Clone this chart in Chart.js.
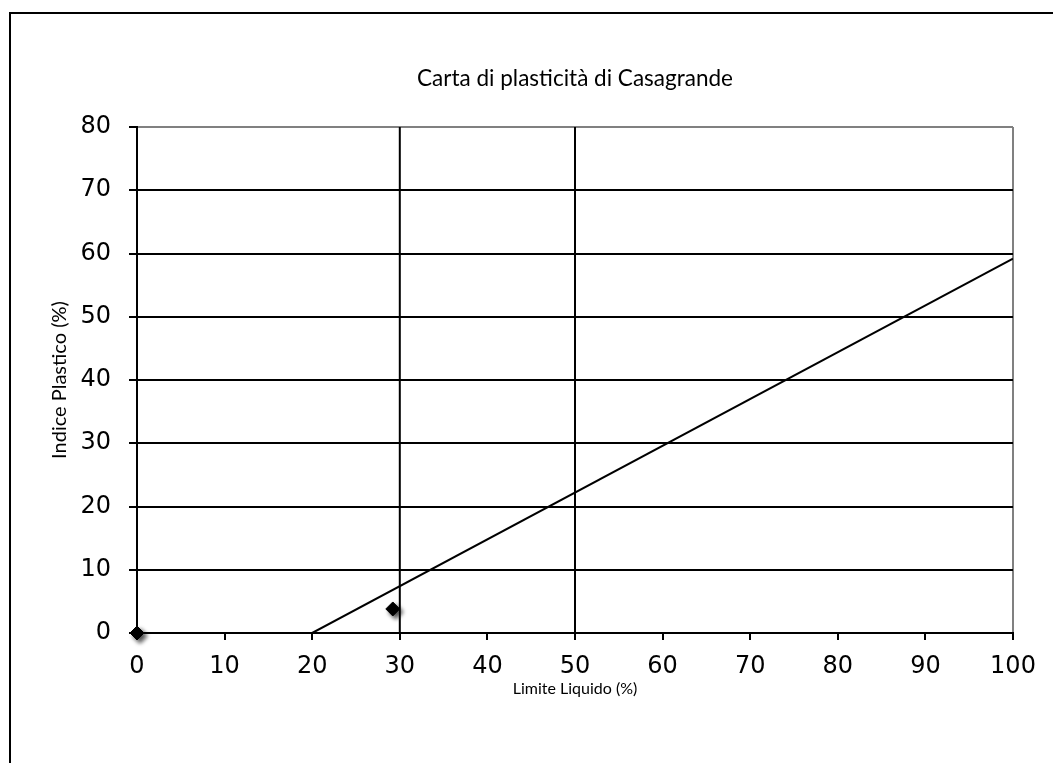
<!DOCTYPE html>
<html>
<head>
<meta charset="utf-8">
<script src="https://cdn.jsdelivr.net/npm/chart.js@4.4.1/dist/chart.umd.min.js"></script>
<style>
  body { margin: 0; background: #fff; overflow: hidden; }
  #cornice { position: absolute; left: 9px; top: 12px; width: 2000px; height: 2000px; border: 2px solid #000; }
  #myChart { position: absolute; left: 0; top: 0; }
</style>
</head>
<body>
<div id="cornice"></div>
<canvas id="myChart" width="1053" height="763"></canvas>
<script>
// dati della carta
const limiteLiquido = [0, 29.2];     // campioni LL (%)
const indicePlastico = [0, 3.8];     // campioni IP (%)
const lineaA_LL = [20, 100];         // linea A
const lineaA_IP = [0, 59.2];
const verticaliLL = [30, 50];        // limiti verticali
const verticaliIP = [0, 80];

const titolo = 'Carta di plasticità di Casagrande';

function chart1(){
  const ctx = document.getElementById('myChart');

  // disegna il titolo centrato sull'area del grafico
  const titoloPlugin = {
    id: 'titoloPlugin',
    afterDraw(chart) {
      const c = chart.ctx;
      const area = chart.chartArea;
      c.save();
      c.font = '22.5px Lato';
      c.fillStyle = '#000';
      c.textAlign = 'center';
      c.textBaseline = 'middle';
      c.fillText(titolo, (area.left + area.right) / 2, 79);
      c.restore();
    }
  };

  // ombra sotto i marcatori
  const ombraPlugin = {
    id: 'ombraPlugin',
    beforeDatasetDraw(chart, args) {
      if (args.index !== 0) return;
      const c = chart.ctx;
      c.save();
      c.shadowColor = 'rgba(0,0,0,0.7)';
      c.shadowBlur = 4;
      c.shadowOffsetX = 3;
      c.shadowOffsetY = 3;
    },
    afterDatasetDraw(chart, args) {
      if (args.index !== 0) return;
      chart.ctx.restore();
    }
  };

  const datasets = [{
    label: 'Campioni',
    data: limiteLiquido.map((x, i) => ({x: x, y: indicePlastico[i]})),
    showLine: false,
    pointStyle: 'rectRot',
    pointRadius: 7,
    pointBackgroundColor: '#000',
    pointBorderColor: '#000',
    clip: false
  }, {
    label: 'Linea A',
    data: lineaA_LL.map((x, i) => ({x: x, y: lineaA_IP[i]})),
    showLine: true,
    borderColor: '#000',
    borderWidth: 2,
    pointRadius: 0
  }];
  verticaliLL.forEach(v => {
    datasets.push({
      label: 'LL ' + v,
      data: verticaliIP.map(y => ({x: v, y: y})),
      showLine: true,
      borderColor: '#000',
      borderWidth: 2,
      pointRadius: 0
    });
  });

  new Chart(ctx, {
    type: 'scatter',
    data: { datasets: datasets },
    options: {
      responsive: false,
      animation: false,
      layout: { padding: { top: 127, right: 40, left: 0, bottom: 0 } },
      plugins: {
        legend: { display: false },
        tooltip: { enabled: false }
      },
      scales: {
        x: {
          type: 'linear',
          min: 0,
          max: 100,
          afterFit: s => { s.height = 130; },
          ticks: {
            stepSize: 10,
            color: '#000',
            padding: 12,
            font: { family: 'DejaVu Sans', size: 24 }
          },
          grid: {
            color: c => c.tick && c.tick.value === 100 ? '#808080' : 'rgba(0,0,0,0)',
            tickColor: '#000',
            lineWidth: 2,
            tickLength: 7
          },
          border: { color: '#000', width: 2 },
          title: {
            display: true,
            text: 'Limite Liquido (%)',
            color: '#000',
            font: { family: 'Lato', size: 16 },
            padding: { top: 0, bottom: 65 }
          }
        },
        y: {
          min: 0,
          max: 80,
          afterFit: s => { s.width = 137; },
          ticks: {
            stepSize: 10,
            color: '#000',
            padding: 18,
            font: { family: 'DejaVu Sans', size: 24 }
          },
          grid: {
            color: c => c.tick && c.tick.value === 80 ? '#808080' : '#000',
            tickColor: '#000',
            lineWidth: 2,
            tickLength: 8
          },
          border: { color: '#000', width: 2 },
          title: {
            display: true,
            text: 'Indice Plastico (%)',
            color: '#000',
            font: { family: 'Lato', size: 20 },
            padding: { top: 48, bottom: 0 }
          }
        }
      }
    },
    plugins: [titoloPlugin, ombraPlugin]
  });
}

chart1();
</script>
</body>
</html>
